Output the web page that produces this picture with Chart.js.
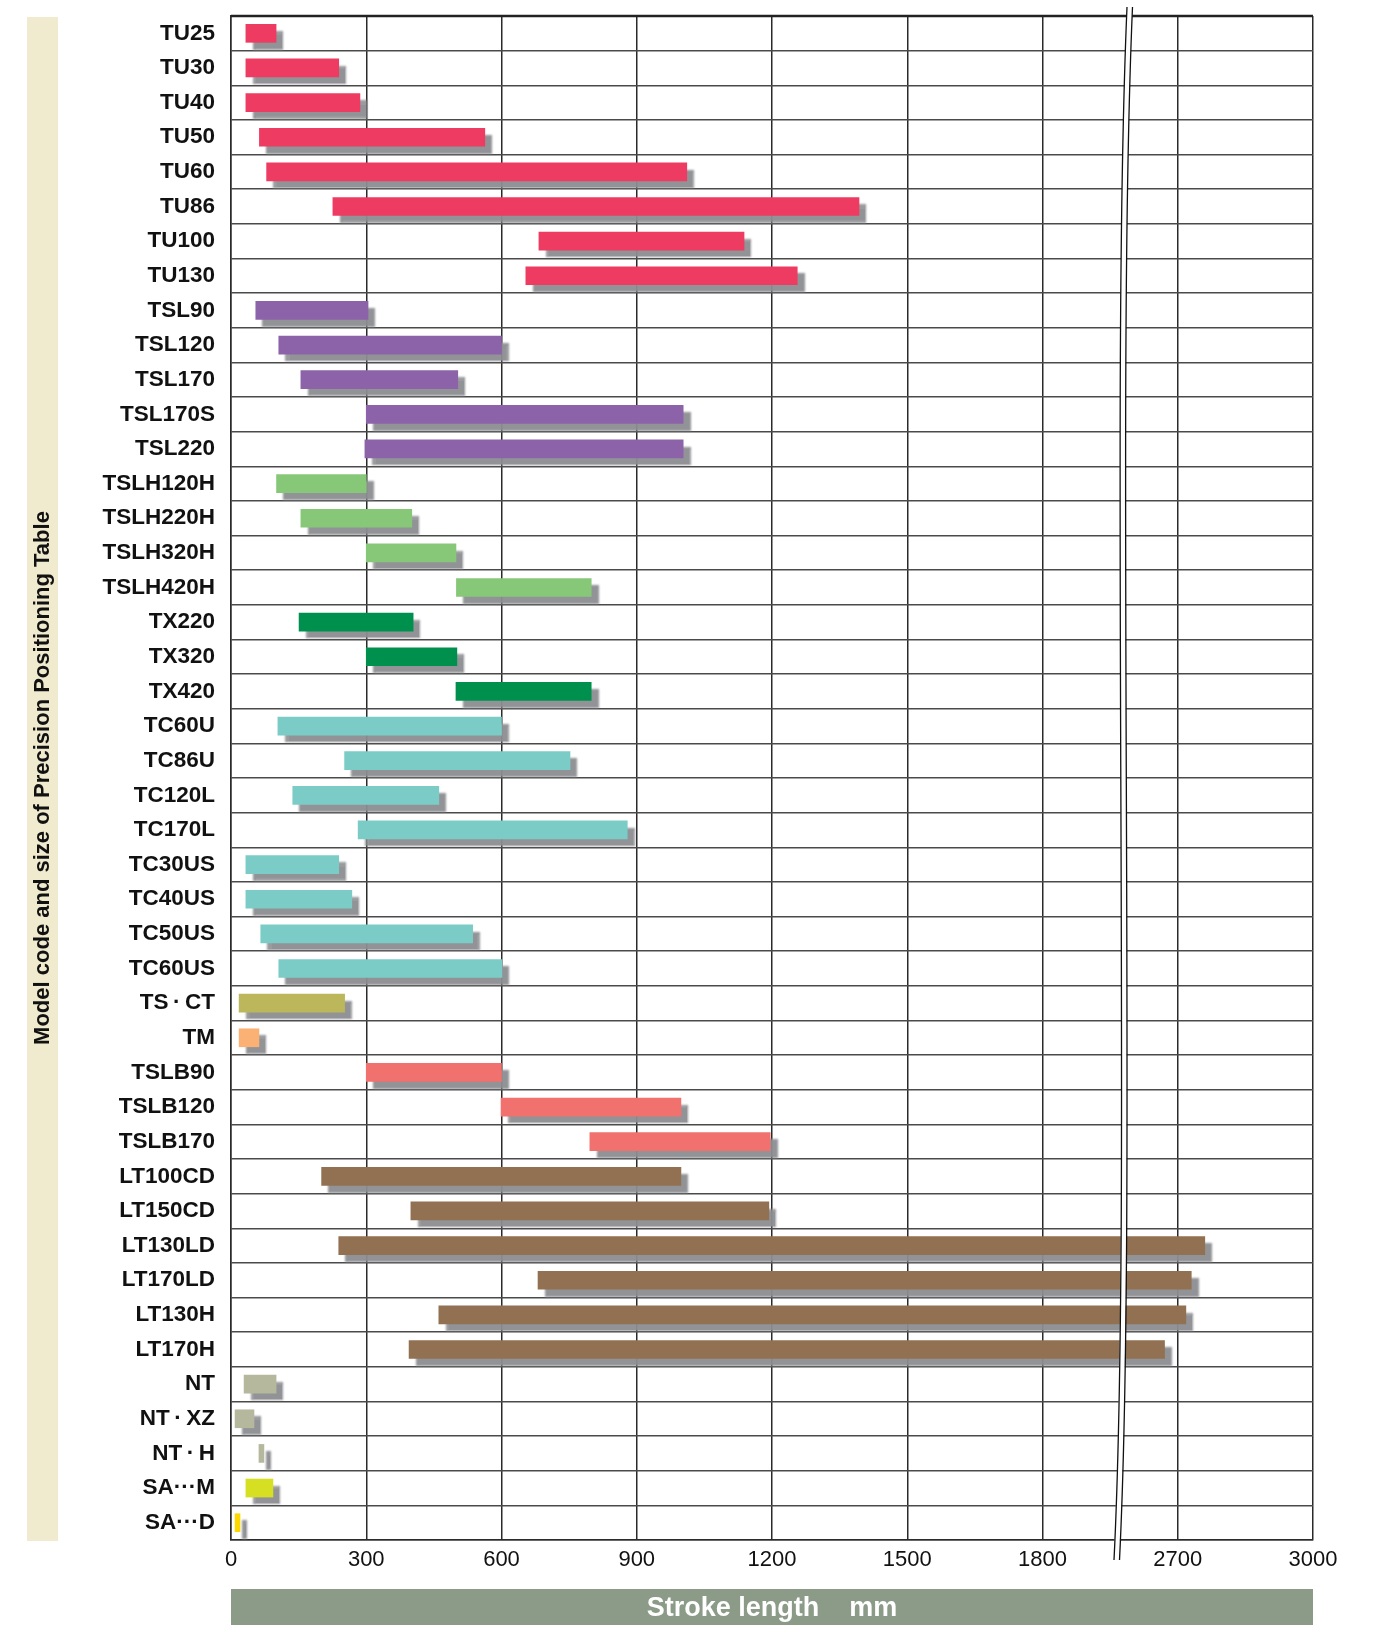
<!DOCTYPE html>
<html>
<head>
<meta charset="utf-8">
<script src="https://cdn.jsdelivr.net/npm/chart.js"></script>
<style>
  html, body { margin: 0; padding: 0; background: #fff; }
  #wrap { width: 1375px; height: 1625px; position: relative; }
</style>
</head>
<body>
<div id="wrap"><canvas id="strokeChart"></canvas></div>
<script>
// model codes, top to bottom
const models = [
  "TU25", "TU30", "TU40", "TU50", "TU60", "TU86", "TU100", "TU130",
  "TSL90", "TSL120", "TSL170", "TSL170S", "TSL220",
  "TSLH120H", "TSLH220H", "TSLH320H", "TSLH420H",
  "TX220", "TX320", "TX420",
  "TC60U", "TC86U", "TC120L", "TC170L", "TC30US", "TC40US", "TC50US", "TC60US",
  "TS\u2009·\u2009CT", "TM",
  "TSLB90", "TSLB120", "TSLB170",
  "LT100CD", "LT150CD", "LT130LD", "LT170LD", "LT130H", "LT170H",
  "NT", "NT\u2009·\u2009XZ", "NT\u2009·\u2009H",
  "SA···M", "SA···D"
]
const families = [
  "TU", "TU", "TU", "TU", "TU", "TU", "TU", "TU",
  "TSL", "TSL", "TSL", "TSL", "TSL",
  "TSLH", "TSLH", "TSLH", "TSLH",
  "TX", "TX", "TX",
  "TC", "TC", "TC", "TC", "TC", "TC", "TC", "TC",
  "TSCT", "TM",
  "TSLB", "TSLB", "TSLB",
  "LT", "LT", "LT", "LT", "LT", "LT",
  "NT", "NT", "NT",
  "SAM", "SAD"
]
// stroke range in mm
const strokeFrom = [
  33, 33, 33, 63, 79, 226, 683, 654,
  55, 106, 155, 300, 297,
  101, 155, 300, 500,
  151, 300, 499,
  104, 252, 137, 282, 33, 33, 66, 106,
  18, 18,
  300, 599, 796,
  201, 399, 239, 681, 461, 395,
  29, 9, 62,
  33, 9
]
const strokeTo = [
  100, 239, 286, 563, 1011, 1393, 1138, 1256,
  304, 600, 503, 1003, 1003,
  300, 401, 499, 799,
  404, 501, 799,
  600, 752, 461, 879, 239, 268, 536, 601,
  252, 62,
  600, 998, 1196,
  998, 1193, 2760, 2730, 2718, 2612,
  100, 51, 73,
  93, 20
]
const tickLabels = ["0", "300", "600", "900", "1200", "1500", "1800", "2700", "3000"]

const familyColours = {
  TU: "#ee3b61", TSL: "#8c63a9", TSLH: "#86c878", TX: "#00904e",
  TC: "#7bcbc6", TSCT: "#bbb75a", TM: "#fbb173", TSLB: "#f0716d",
  LT: "#917151", NT: "#b6b89d", SAM: "#d7df23", SAD: "#fcd800"
}

// axis is broken between 1800 and 2700
function toAxis(v) {
  if (v <= 1800) return v / 300
  if (v <= 2700) return 6 + (v - 1800) / 900
  return 7 + (v - 2700) / 300
}

const FONT = "'Liberation Sans', Arial, Helvetica, sans-serif"

const panels = {
  id: "panels",
  beforeDraw(chart) {
    const c = chart.ctx
    const a = chart.chartArea
    c.save()
    c.fillStyle = "#fff"
    c.fillRect(0, 0, chart.width, chart.height)
    c.fillStyle = "#f0eacf"
    c.fillRect(27, a.top + 1, 31, a.bottom - a.top)
    c.fillStyle = "#8b9b87"
    c.fillRect(a.left, 1589, a.right - a.left, chart.height - 1589)
    c.restore()
  },
}

const barShadow = {
  id: "barShadow",
  beforeDatasetsDraw(chart) {
    const c = chart.ctx
    c.save()
    c.shadowColor = "rgba(140,141,145,0.95)"
    c.shadowBlur = 2
    c.shadowOffsetX = 7
    c.shadowOffsetY = 7
  },
  afterDatasetsDraw(chart) {
    chart.ctx.restore()
  },
}

const axisBreak = {
  id: "axisBreak",
  afterDraw(chart) {
    const c = chart.ctx
    const a = chart.chartArea
    c.save()
    c.lineWidth = 2.5
    c.strokeStyle = "#222"
    c.beginPath()
    c.moveTo(a.left, a.top)
    c.lineTo(a.right, a.top)
    c.stroke()
    const gap = 5.5
    const p = [[1127, 7], [1110, 400], [1132, 1200], [1114, 1560]]
    c.beginPath()
    c.moveTo(p[0][0], p[0][1])
    c.bezierCurveTo(p[1][0], p[1][1], p[2][0], p[2][1], p[3][0], p[3][1])
    c.lineTo(p[3][0] + gap, p[3][1])
    c.bezierCurveTo(p[2][0] + gap, p[2][1], p[1][0] + gap, p[1][1], p[0][0] + gap, p[0][1])
    c.closePath()
    c.fillStyle = "#fff"
    c.fill()
    c.lineWidth = 1.3
    c.strokeStyle = "#111"
    for (const off of [0, gap]) {
      c.beginPath()
      c.moveTo(p[0][0] + off, p[0][1])
      c.bezierCurveTo(p[1][0] + off, p[1][1], p[2][0] + off, p[2][1], p[3][0] + off, p[3][1])
      c.stroke()
    }
    c.restore()
  },
}

const ctx = document.getElementById("strokeChart").getContext("2d")
const strokeChart = new Chart(ctx, {
  type: "bar",
  data: {
    labels: models,
    datasets: [
      {
        label: "Stroke length",
        data: models.map((m, i) => [toAxis(strokeFrom[i]), toAxis(strokeTo[i])]),
        backgroundColor: families.map((f) => familyColours[f]),
        borderWidth: 0,
        borderSkipped: false,
        barThickness: 18,
      },
    ],
  },
  options: {
    indexAxis: "y",
    responsive: true,
    maintainAspectRatio: false,
    animation: false,
    layout: { padding: { top: 16, right: 62, bottom: 0, left: 0 } },
    plugins: {
      legend: { display: false },
      tooltip: { enabled: false },
    },
    scales: {
      x: {
        type: "linear",
        position: "bottom",
        min: 0,
        max: 8,
        afterFit: (s) => { s.height = 85 },
        ticks: {
          stepSize: 1,
          autoSkip: false,
          padding: 7,
          color: "#111",
          font: { family: FONT, size: 22 },
          callback: (v) => tickLabels[v],
        },
        grid: { color: "#2a2a2a", lineWidth: 1.5, drawTicks: false },
        border: { color: "#2a2a2a", width: 1.5 },
        title: {
          display: true,
          text: "Stroke length    mm",
          color: "#fff",
          font: { family: FONT, size: 27, weight: "bold" },
          padding: { top: 0, bottom: 0 },
        },
      },
      y: {
        type: "category",
        position: "left",
        offset: true,
        afterFit: (s) => {
          s.width = 231
          s.paddingTop = 0
          s.paddingBottom = 0
        },
        ticks: {
          autoSkip: false,
          padding: 16,
          color: "#111",
          font: { family: FONT, size: 22.5, weight: "bold" },
        },
        grid: { color: "#4a4a4a", lineWidth: 1.5, drawTicks: false, offset: true },
        border: { color: "#2a2a2a", width: 1.5 },
        title: {
          display: true,
          text: "Model code and size of Precision Positioning Table",
          color: "#111",
          font: { family: FONT, size: 22, weight: "bold" },
          padding: { top: 30, bottom: 0 },
        },
      },
    },
  },
  plugins: [panels, barShadow, axisBreak],
})
</script>
</body>
</html>
